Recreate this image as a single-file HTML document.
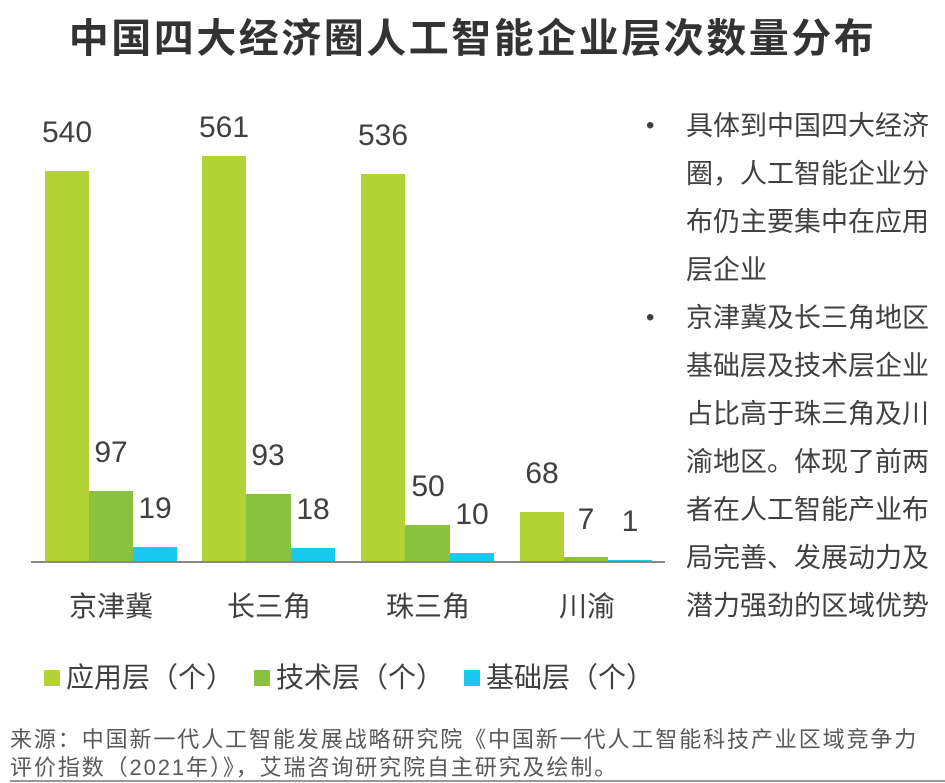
<!DOCTYPE html>
<html><head><meta charset="utf-8"><style>
body{margin:0;width:945px;height:783px;background:#fff;position:relative;overflow:hidden;font-family:"Liberation Sans","Noto Sans CJK SC",sans-serif;color:#404040}
div{position:absolute;white-space:nowrap}
.b{position:absolute}
.v{font-size:30px;text-align:center;width:80px;line-height:30px}
.c{font-size:28px;text-align:center;width:160px;line-height:30px}
.r{font-size:27px;left:686px;line-height:48px;letter-spacing:0px}
.dot{left:646px;font-size:24px}
</style></head><body>
<div style="left:0;width:945px;top:14px;text-align:center;font-size:40px;font-weight:bold;color:#333;line-height:50px;letter-spacing:2.5px">中国四大经济圈人工智能企业层次数量分布</div>

<div class="b" style="left:45px;top:171px;width:44px;height:391px;background:#b2d235"></div>
<div class="b" style="left:89px;top:491px;width:44px;height:71px;background:#8ac13f"></div>
<div class="b" style="left:133px;top:547px;width:44px;height:15px;background:#1ac8f0"></div>
<div class="b" style="left:202px;top:156px;width:44px;height:406px;background:#b2d235"></div>
<div class="b" style="left:246px;top:494px;width:45px;height:68px;background:#8ac13f"></div>
<div class="b" style="left:291px;top:548px;width:44px;height:14px;background:#1ac8f0"></div>
<div class="b" style="left:361px;top:174px;width:44px;height:388px;background:#b2d235"></div>
<div class="b" style="left:405px;top:525px;width:45px;height:37px;background:#8ac13f"></div>
<div class="b" style="left:450px;top:553px;width:44px;height:9px;background:#1ac8f0"></div>
<div class="b" style="left:520px;top:512px;width:44px;height:50px;background:#b2d235"></div>
<div class="b" style="left:564px;top:557px;width:44px;height:5px;background:#8ac13f"></div>
<div class="b" style="left:608px;top:560px;width:44px;height:2px;background:#1ac8f0"></div>
<div class="b" style="left:31px;top:561px;width:634px;height:2px;background:#888"></div>

<div class="v" style="left:27px;top:118px">540</div>
<div class="v" style="left:71px;top:438px">97</div>
<div class="v" style="left:115px;top:494px">19</div>
<div class="v" style="left:184px;top:113px">561</div>
<div class="v" style="left:228px;top:441px">93</div>
<div class="v" style="left:273px;top:495px">18</div>
<div class="v" style="left:343px;top:121px">536</div>
<div class="v" style="left:388px;top:472px">50</div>
<div class="v" style="left:432px;top:500px">10</div>
<div class="v" style="left:502px;top:459px">68</div>
<div class="v" style="left:546px;top:505px">7</div>
<div class="v" style="left:590px;top:507px">1</div>

<div class="c" style="left:31px;top:592px">京津冀</div>
<div class="c" style="left:189px;top:592px">长三角</div>
<div class="c" style="left:348px;top:592px">珠三角</div>
<div class="c" style="left:507px;top:592px">川渝</div>

<div class="b" style="left:44px;top:670px;width:16px;height:16px;background:#b2d235"></div>
<div style="left:66px;top:662px;font-size:28px;line-height:32px">应用层（个）</div>
<div class="b" style="left:254px;top:670px;width:16px;height:16px;background:#8ac13f"></div>
<div style="left:276px;top:662px;font-size:28px;line-height:32px">技术层（个）</div>
<div class="b" style="left:464px;top:670px;width:16px;height:16px;background:#1ac8f0"></div>
<div style="left:486px;top:662px;font-size:28px;line-height:32px">基础层（个）</div>

<div class="dot" style="top:112px">•</div>
<div class="r" style="top:102px">具体到中国四大经济<br>圈，人工智能企业分<br>布仍主要集中在应用<br>层企业</div>
<div class="dot" style="top:304px">•</div>
<div class="r" style="top:294px">京津冀及长三角地区<br>基础层及技术层企业<br>占比高于珠三角及川<br>渝地区。体现了前两<br>者在人工智能产业布<br>局完善、发展动力及<br>潜力强劲的区域优势</div>

<div style="left:10px;top:726px;font-size:22px;line-height:28px;color:#595959;letter-spacing:1.9px">来源：中国新一代人工智能发展战略研究院《中国新一代人工智能科技产业区域竞争力<br>评价指数（2021年）》，艾瑞咨询研究院自主研究及绘制。</div>
<div class="b" style="left:10px;top:780px;width:935px;height:2px;background:#999"></div>
</body></html>
